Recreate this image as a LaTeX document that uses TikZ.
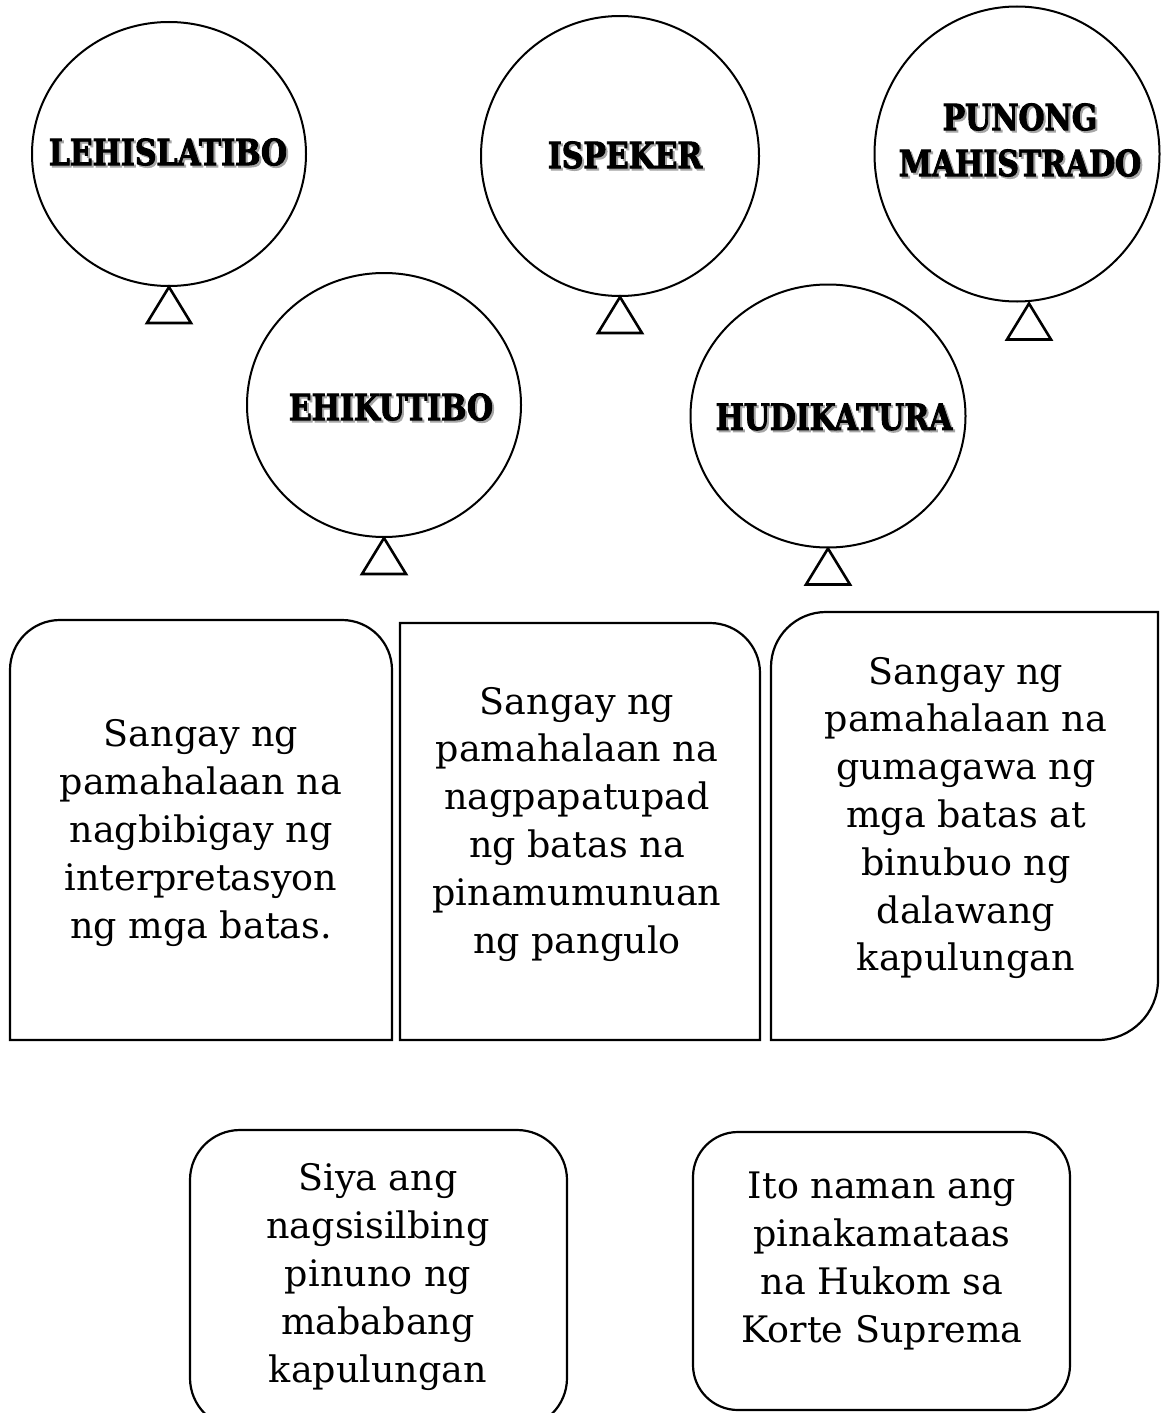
\documentclass[tikz,border=0pt]{standalone}
\usepackage{fontspec}
\setmainfont{DejaVu Serif}
\newfontfamily\capfont[FakeStretch=0.83,FakeBold=2.5]{DejaVu Serif}
\usetikzlibrary{shapes.geometric,calc,positioning}

\tikzset{
  balloon/.style={draw,ellipse,line width=2pt,inner sep=0pt},
  knot/.style={draw,line width=2.6pt,line join=miter},
  lbl/.style={font=\capfont\bfseries\fontsize{36}{46}\selectfont,align=center,inner sep=0pt},
  card/.style={draw,line width=2.2pt},
  cardtxt/.style={font=\fontsize{36.5}{47.8}\selectfont,align=center,inner sep=0pt},
}

% bold label with a soft grey shadow
\newcommand{\shadowlabel}[3]{%
  \node[lbl,text=black!35] at ($(#2)+(2,2)$) {#3};
  \node[lbl] (#1) at (#2) {#3};}

\begin{document}
\begin{tikzpicture}[x=1pt,y=-1pt]
\clip (0,0) rectangle (1161,1413);

% balloons
\node[balloon,minimum width=274,minimum height=264] (lehis) at (169,154) {};
\node[balloon,minimum width=278,minimum height=280] (ispek) at (620,156) {};
\node[balloon,minimum width=285,minimum height=295] (punong) at (1017,154) {};
\node[balloon,minimum width=274,minimum height=264] (ehik) at (384,405) {};
\node[balloon,minimum width=275,minimum height=263] (hudi) at (828,416) {};

\coordinate (punongknot) at ($(punong.south)+(12,1)$);
\foreach \b in {lehis.south,ispek.south,punongknot,ehik.south,hudi.south}
  \draw[knot] (\b) -- ++(-22,36) -- ++(44,0) -- cycle;

\shadowlabel{lehislbl}{168,152}{LEHISLATIBO}
\shadowlabel{ispeklbl}{625,155}{ISPEKER}
\shadowlabel{punonglbl}{1020,140}{PUNONG\\MAHISTRADO}
\shadowlabel{ehiklbl}{391,407}{EHIKUTIBO}
\shadowlabel{hudilbl}{834,417}{HUDIKATURA}

% cards
\draw[card] (10,830) [rounded corners=50] -- (10,620) -- (392,620) [sharp corners] -- (392,1040) -- (10,1040) -- cycle;
\draw[card] (400,830) -- (400,623) [rounded corners=50] -- (760,623) [sharp corners] -- (760,1040) -- (400,1040) -- cycle;
\draw[card] (771,830) [rounded corners=55] -- (771,612) [sharp corners] -- (1158,612) [rounded corners=60] -- (1158,1040) [sharp corners] -- (771,1040) -- cycle;
\draw[card,rounded corners=50] (190,1130) rectangle (567,1428);
\draw[card,rounded corners=45] (693,1132) rectangle (1070,1410);

\node[cardtxt] (lehistxt) at (201,833) {Sangay ng\\pamahalaan na\\nagbibigay ng\\interpretasyon\\ng mga batas.};
\node[cardtxt] (ehiktxt) at (577,824) {Sangay ng\\pamahalaan na\\nagpapatupad\\ng batas na\\pinamumunuan\\ng pangulo};
\node[cardtxt] (huditxt) at (966,818) {Sangay ng\\pamahalaan na\\gumagawa ng\\mga batas at\\binubuo ng\\dalawang\\kapulungan};
\node[cardtxt] (ispektxt) at (378,1277) {Siya ang\\nagsisilbing\\pinuno ng\\mababang\\kapulungan};
\node[cardtxt] (punongtxt) at (882,1261) {Ito naman ang\\pinakamataas\\na Hukom sa\\Korte Suprema};
\end{tikzpicture}
\end{document}
